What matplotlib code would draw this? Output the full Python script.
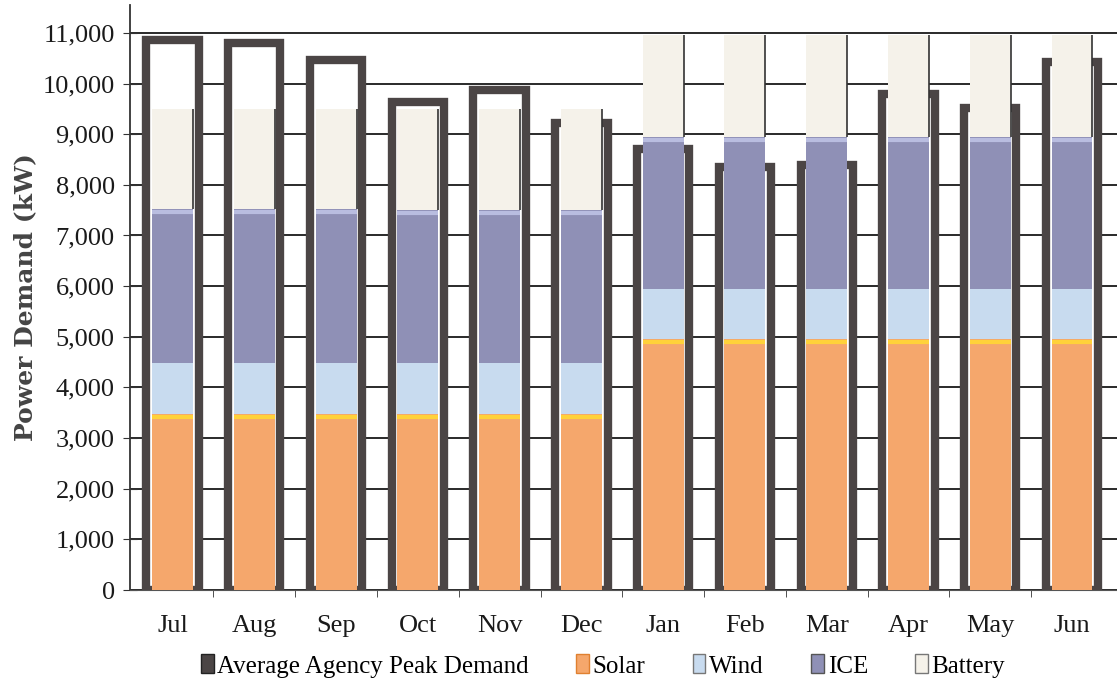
import matplotlib
matplotlib.use('Agg')
import matplotlib.pyplot as plt
import numpy as np
from matplotlib.patches import Patch
from matplotlib.ticker import FuncFormatter

months = ['Jul', 'Aug', 'Sep', 'Oct', 'Nov', 'Dec', 'Jan', 'Feb', 'Mar', 'Apr', 'May', 'Jun']
peak_demand = [10860, 10800, 10460, 9640, 9870, 9220, 8700, 8360, 8390, 9800, 9520, 10430]
solar = [3480, 3480, 3480, 3480, 3480, 3480, 4950, 4950, 4950, 4950, 4950, 4950]
wind = [1010, 1010, 1010, 1000, 1000, 1000, 1000, 1000, 1000, 1000, 1000, 1000]
ice = [3030, 3030, 3030, 3020, 3020, 3020, 3000, 3000, 3000, 3000, 3000, 3000]
battery = [1980, 1980, 1980, 1990, 1990, 1990, 2000, 2000, 2000, 2000, 2000, 2000]

c_peak = '#4b4545'
c_solar = '#f5a76c'
c_wind = '#c8dbef'
c_ice = '#8f90b6'
c_batt = '#f5f2ea'

plt.rcParams['font.family'] = ['Liberation Serif', 'DejaVu Serif']

fig = plt.figure(figsize=(11.17, 6.88), dpi=100)
ax = fig.add_axes([0.1164, 0.1424, 0.8836, 0.8503])

x = np.arange(len(months))
solar = np.array(solar)
wind = np.array(wind)
ice = np.array(ice)
battery = np.array(battery)

# peak demand as thick hollow bars behind the stacks
ax.bar(x, peak_demand, width=0.64, facecolor='white', edgecolor=c_peak, linewidth=6, zorder=2)

w = 0.5
ax.bar(x, solar, width=w, color=c_solar, zorder=3)
ax.bar(x, wind, width=w, bottom=solar, color=c_wind, zorder=3)
ax.bar(x, ice, width=w, bottom=solar + wind, color=c_ice, zorder=3)
ax.bar(x, battery, width=w, bottom=solar + wind + ice, color=c_batt, zorder=3)

# small highlights on top of solar and ICE, thin edge on battery
ax.hlines(solar - 60, x - w / 2, x + w / 2, color='#ffd23a', linewidth=3, zorder=4)
ax.hlines(solar + wind + ice - 60, x - w / 2, x + w / 2, color='#b9bde0', linewidth=3, zorder=4)
top = solar + wind + ice + battery
ax.vlines(x + w / 2, solar + wind + ice, top, color='#333333', linewidth=1.2, zorder=4)

ax.set_xlim(-0.52, 11.55)
ax.set_ylim(0, 11550)
ax.set_yticks(np.arange(0, 11001, 1000))
ax.yaxis.set_major_formatter(FuncFormatter(lambda v, p: f'{int(v):,}'))
ax.grid(axis='y', color='#2a2a2a', linewidth=1.4, zorder=0)
ax.set_axisbelow(True)

ax.set_xticks(x)
ax.set_xticklabels(months, fontsize=19, color='#1a1a1a')
ax.set_xticks(x[:-1] + 0.5, minor=True)
ax.tick_params(axis='x', which='major', length=0, pad=18)
ax.tick_params(axis='x', which='minor', length=5, direction='out', color='#333333')
ax.tick_params(axis='y', labelsize=19, labelcolor='#1a1a1a', direction='inout', length=10,
               color='#333333', pad=6)

for s in ['top', 'right']:
    ax.spines[s].set_visible(False)
ax.spines['left'].set_color('#333333')
ax.spines['bottom'].set_color('#555555')
ax.spines['left'].set_linewidth(1.3)

ax.set_ylabel('Power Demand (kW)', fontsize=18, fontweight='bold', color='#444444',
              family='DejaVu Serif', labelpad=4)

handles = [Patch(facecolor=c_peak, edgecolor='#222222'),
           Patch(facecolor=c_solar, edgecolor='#e08030'),
           Patch(facecolor=c_wind, edgecolor='#777777'),
           Patch(facecolor=c_ice, edgecolor='#555555'),
           Patch(facecolor=c_batt, edgecolor='#777777')]
labels = ['Average Agency Peak Demand', 'Solar', 'Wind', 'ICE', 'Battery']
fig.legend(handles, labels, loc='center', bbox_to_anchor=(0.54, 0.032), ncol=5, frameon=False,
           fontsize=18, handlelength=0.5, handleheight=0.8, handletextpad=0.15, columnspacing=1.9)

fig.savefig('out.png', dpi=100)
